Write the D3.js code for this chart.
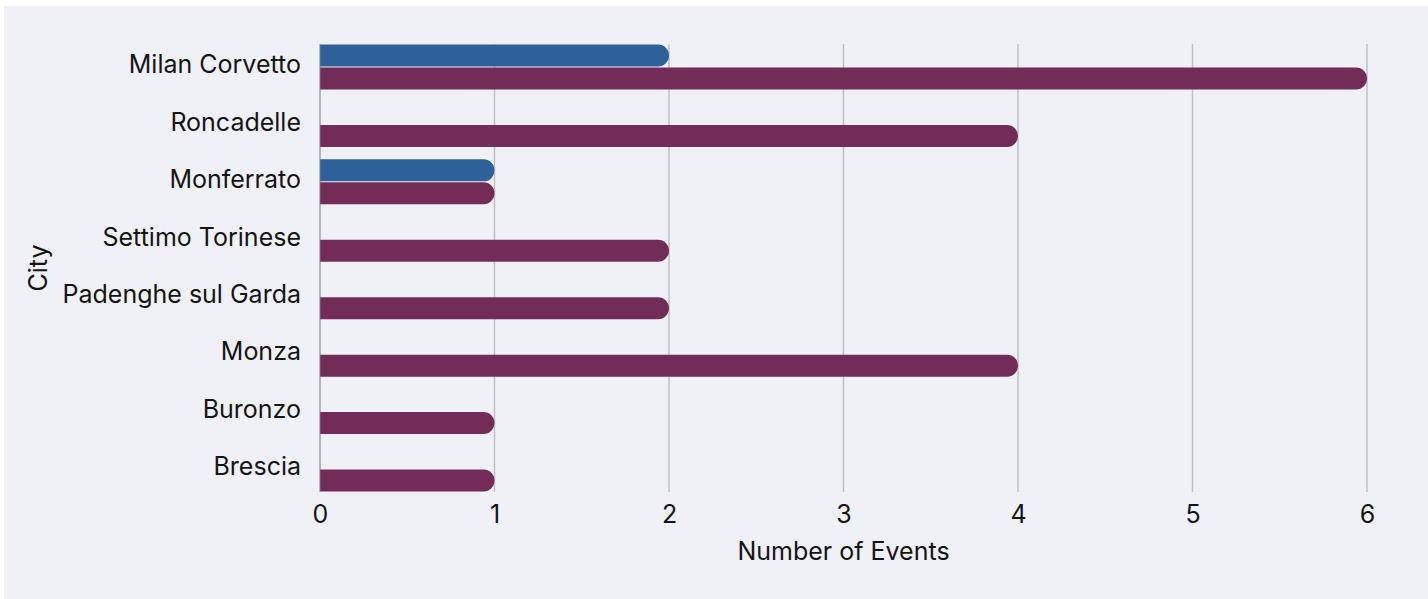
<!DOCTYPE html>
<html>
<head>
<meta charset="utf-8">
<script src="https://cdn.jsdelivr.net/npm/d3@7"></script>
<style>
  html, body { margin: 0; padding: 0; background: #ffffff; }
  svg { display: block; font-family: Inter, "Noto Sans", sans-serif; }
</style>
</head>
<body>
<div id="chart"></div>
<script>
// chart data
const cities = ['Milan Corvetto', 'Roncadelle', 'Monferrato', 'Settimo Torinese',
                'Padenghe sul Garda', 'Monza', 'Buronzo', 'Brescia'];
const seriesNames = ['series1', 'series2'];
const series1Values = [2, 0, 1, 0, 0, 0, 0, 0];
const series2Values = [6, 4, 1, 2, 2, 4, 1, 1];
const xTicks = [0, 1, 2, 3, 4, 5, 6];

const width = 1428, height = 599;
const margin = {top: 44, right: 61, bottom: 107, left: 320};
const colors = {series1: '#2e6099', series2: '#732c57'};
const fontSize = '25px';

const svg = d3.select('#chart').append('svg')
  .attr('width', width)
  .attr('height', height);

// panel background
svg.append('rect')
  .attr('x', 4).attr('y', 6)
  .attr('width', width - 4).attr('height', height - 6)
  .attr('fill', '#f0f1f6');

const plotW = width - margin.left - margin.right;
const plotH = height - margin.top - margin.bottom;

const g = svg.append('g')
  .attr('transform', `translate(${margin.left},${margin.top})`);

const x = d3.scaleLinear().domain([0, 6]).range([0, plotW]);
const y = d3.scaleBand().domain(cities).range([0, plotH])
  .paddingInner(0.2).paddingOuter(0);
const ySub = d3.scaleBand().domain(seriesNames).range([0, y.bandwidth()]).padding(0);

// gridlines
g.append('g')
  .selectAll('line')
  .data(xTicks.filter(t => t > 0))
  .join('line')
  .attr('x1', d => x(d)).attr('x2', d => x(d))
  .attr('y1', 0).attr('y2', plotH)
  .attr('stroke', '#bfc0c6')
  .attr('stroke-width', 1.5);

// bars with rounded right end
const rows = [];
cities.forEach((c, i) => {
  rows.push({city: c, key: 'series1', value: series1Values[i]});
  rows.push({city: c, key: 'series2', value: series2Values[i]});
});

function barPath(d) {
  const y0 = y(d.city) + ySub(d.key) + 0.5;
  const h = ySub.bandwidth() - 1;
  const w = x(d.value);
  const r = Math.min(h / 2, w);
  return `M0,${y0}H${w - r}A${r},${r} 0 0 1 ${w},${y0 + r}V${y0 + h - r}` +
         `A${r},${r} 0 0 1 ${w - r},${y0 + h}H0Z`;
}

g.append('g')
  .selectAll('path')
  .data(rows.filter(d => d.value > 0))
  .join('path')
  .attr('d', barPath)
  .attr('fill', d => colors[d.key]);

// y axis line
g.append('line')
  .attr('x1', 0).attr('x2', 0)
  .attr('y1', 0).attr('y2', plotH)
  .attr('stroke', '#7a7a7a')
  .attr('stroke-width', 1);

// y axis labels
const yAxis = g.append('g')
  .call(d3.axisLeft(y).tickSize(0).tickPadding(19));
yAxis.select('.domain').remove();
yAxis.selectAll('text')
  .attr('dy', '0.25em')
  .style('font-size', fontSize)
  .style('font-family', 'Inter, "Noto Sans", sans-serif')
  .attr('fill', '#141414');

// x axis labels
const xAxis = g.append('g')
  .attr('transform', `translate(0,${plotH})`)
  .call(d3.axisBottom(x).tickValues(xTicks).tickFormat(d3.format('d')).tickSize(0).tickPadding(13));
xAxis.select('.domain').remove();
xAxis.selectAll('text')
  .style('font-size', fontSize)
  .style('font-family', 'Inter, "Noto Sans", sans-serif')
  .attr('fill', '#141414');

// axis titles
svg.append('text')
  .attr('x', margin.left + plotW / 2)
  .attr('y', 560)
  .attr('text-anchor', 'middle')
  .style('font-size', fontSize)
  .attr('fill', '#141414')
  .text('Number of Events');

svg.append('text')
  .attr('transform', `translate(47,${margin.top + plotH / 2}) rotate(-90)`)
  .attr('text-anchor', 'middle')
  .style('font-size', fontSize)
  .attr('fill', '#141414')
  .text('City');
</script>
</body>
</html>
